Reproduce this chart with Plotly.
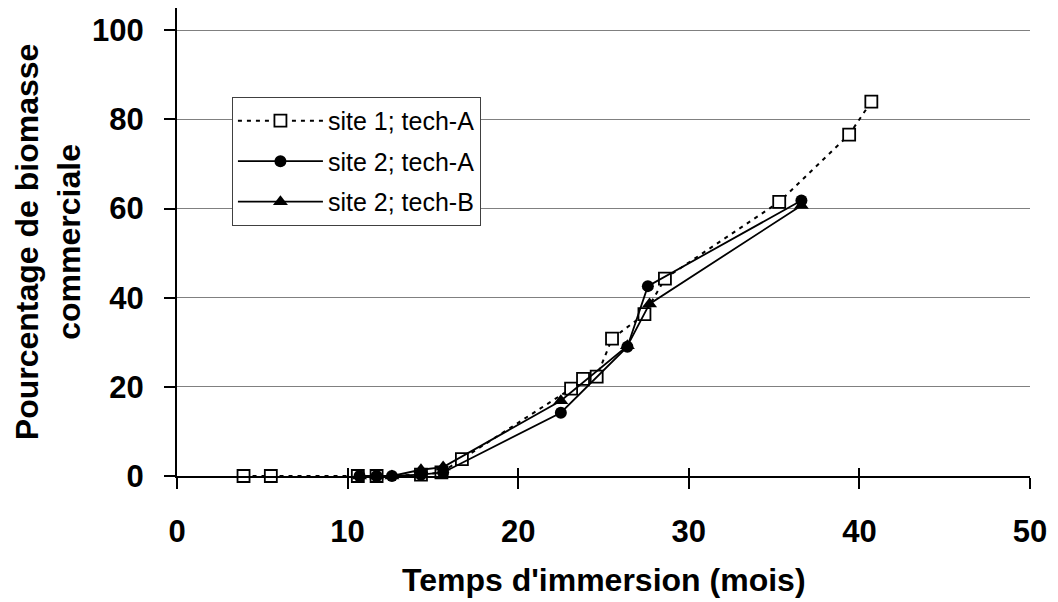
import plotly.graph_objects as go

# Site 1; tech-A
s1a_x = [3.9, 5.5, 10.6, 11.7, 14.3, 15.5, 16.7, 23.1, 23.8, 24.6, 25.5, 27.4, 28.6, 35.3, 39.4, 40.7]
s1a_y = [0.0, 0.0, 0.0, 0.0, 0.3, 0.8, 3.8, 19.6, 21.8, 22.3, 30.8, 36.3, 44.3, 61.5, 76.6, 84.0]
# Site 2; tech-A
s2a_x = [10.7, 11.7, 12.6, 14.3, 15.6, 22.5, 26.4, 27.6, 36.6]
s2a_y = [0.0, 0.0, 0.0, 0.3, 0.8, 14.2, 29.0, 42.6, 61.8]
# Site 2; tech-B
s2b_x = [10.7, 11.7, 12.6, 14.3, 15.6, 22.5, 26.4, 27.7, 36.6]
s2b_y = [0.0, 0.0, 0.0, 1.4, 2.0, 16.9, 29.2, 38.6, 60.7]

names = ["site 1; tech-A", "site 2; tech-A", "site 2; tech-B"]
x_ticks = [0, 10, 20, 30, 40, 50]
y_ticks = [0, 20, 40, 60, 80, 100]

FONT = "Liberation Sans, Arial"

fig = go.Figure()
fig.add_trace(go.Scatter(x=s1a_x, y=s1a_y, name=names[0], mode="lines+markers",
                         line=dict(color="black", width=2, dash="4px,5px"),
                         marker=dict(symbol="square", size=12, color="white",
                                     line=dict(color="black", width=1.8)),
                         cliponaxis=False, legendgroup="a"))
fig.add_trace(go.Scatter(x=s2a_x, y=s2a_y, name=names[1], mode="lines+markers",
                         line=dict(color="black", width=1.8),
                         marker=dict(symbol="circle", size=12, color="black"),
                         cliponaxis=False, legendgroup="b"))
fig.add_trace(go.Scatter(x=s2b_x, y=s2b_y, name=names[2], mode="lines+markers",
                         line=dict(color="black", width=1.8),
                         marker=dict(symbol="triangle-up", size=13, color="black"),
                         cliponaxis=False, legendgroup="c"))
# dummy trace so the inside half of the crossing x ticks is drawn
fig.add_trace(go.Scatter(x=[None], y=[None], xaxis="x2", yaxis="y2", showlegend=False, hoverinfo="skip"))

tickfont = dict(family=FONT, size=31, color="black", weight="bold")
fig.update_layout(
    width=1058, height=602,
    margin=dict(l=177, r=27.5, t=8, b=126),
    paper_bgcolor="white", plot_bgcolor="white",
    showlegend=True,
    xaxis=dict(range=[0, 50], tickvals=x_ticks, ticks="outside", ticklen=11, tickwidth=2,
               tickcolor="black", showline=True, linecolor="black", linewidth=2,
               showgrid=False, zeroline=False, tickfont=tickfont, ticklabelstandoff=16),
    yaxis=dict(range=[0, 105], tickvals=y_ticks, ticks="outside", ticklen=11, tickwidth=2,
               tickcolor="black", showline=True, linecolor="black", linewidth=2,
               showgrid=True, gridcolor="#808080", gridwidth=1, zeroline=False,
               tickfont=tickfont, ticklabelstandoff=14),
    xaxis2=dict(range=[0, 50], tickvals=x_ticks, ticks="inside", ticklen=8, tickwidth=2,
                tickcolor="black", showticklabels=False, showgrid=False, zeroline=False,
                overlaying="x", matches="x"),
    yaxis2=dict(range=[0, 105], tickvals=y_ticks, ticks="", showticklabels=False,
                showgrid=False, zeroline=False, overlaying="y", matches="y"),
    legend=dict(x=0.0644, y=0.81, xanchor="left", yanchor="top",
                bordercolor="#404040", borderwidth=1, bgcolor="white",
                font=dict(family=FONT, size=25, color="black"),
                traceorder="grouped", tracegroupgap=5, itemwidth=85),
    annotations=[
        dict(text="<b>Temps d'immersion (mois)</b>", xref="paper", yref="paper",
             x=0.5, y=-0.222, showarrow=False, xanchor="center", yanchor="middle",
             font=dict(family=FONT, size=32, color="black")),
        dict(text="<b>Pourcentage de biomasse<br>commerciale</b>", xref="paper", yref="paper",
             x=-0.151, y=0.5, showarrow=False, textangle=-90, xanchor="center", yanchor="middle",
             font=dict(family=FONT, size=32, color="black")),
    ],
)
fig.write_html("out.html")
